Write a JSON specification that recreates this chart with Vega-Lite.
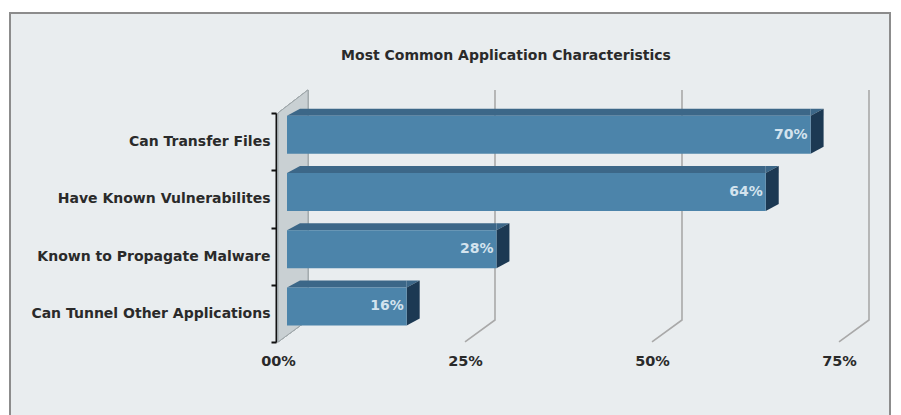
{
  "$schema": "https://vega.github.io/schema/vega-lite/v6.json",
  "width": 880,
  "height": 403,
  "autosize": {"type": "none"},
  "padding": {"left": 10, "top": 13, "right": 11, "bottom": 0},
  "background": "white",
  "title": {
    "text": "Most Common Application Characteristics",
    "anchor": "middle",
    "frame": "group",
    "offset": -64,
    "dx": 56,
    "baseline": "middle",
    "font": "DejaVu Sans",
    "fontSize": 14,
    "fontWeight": "bold",
    "color": "#2a2a2a"
  },
  "config": {
    "view": {"fill": "#e9edef", "stroke": "#8c8c8c", "strokeWidth": 2}
  },
  "data": {
    "values": [
      {"characteristic": "Can Transfer Files", "pct": 70, "label": "70%"},
      {"characteristic": "Have Known Vulnerabilites", "pct": 64, "label": "64%"},
      {"characteristic": "Known to Propagate Malware", "pct": 28, "label": "28%"},
      {"characteristic": "Can Tunnel Other Applications", "pct": 16, "label": "16%"}
    ]
  },
  "layer": [
    {
      "mark": {"type": "point", "shape": "M0,-200.4 L30,-223.4 L30,6.6 L0,28.6 Z", "size": 4, "filled": true, "opacity": 1, "color": "#c9d0d3", "stroke": "#9fa7aa", "strokeWidth": 1},
      "encoding": {
        "x": {"datum": 0, "type": "quantitative"},
        "y": {"datum": "Can Tunnel Other Applications", "type": "nominal"}
      }
    },
    {
      "data": {"values": [{"g": 25}, {"g": 50}, {"g": 75}]},
      "mark": {"type": "point", "shape": "M30,-223.4 L30,6.6 L0,28.6", "size": 4, "filled": false, "opacity": 1, "color": "#a9a9a9", "strokeWidth": 1.6},
      "encoding": {
        "x": {"field": "g", "type": "quantitative"},
        "y": {"datum": "Can Tunnel Other Applications", "type": "nominal"}
      }
    },
    {
      "mark": {"type": "bar", "height": 7, "yOffset": -29.5, "xOffset": 9, "x2Offset": 22, "color": "#3c6788"},
      "encoding": {
        "x": {"field": "pct", "type": "quantitative"},
        "x2": {"datum": 0},
        "y": {"field": "characteristic", "type": "nominal"}
      }
    },
    {
      "mark": {"type": "point", "shape": "M0,-26 L13,-33 L13,-26 Z", "size": 4, "filled": true, "opacity": 1, "color": "#3c6788", "xOffset": 9},
      "encoding": {
        "x": {"datum": 0, "type": "quantitative"},
        "y": {"field": "characteristic", "type": "nominal"}
      }
    },
    {
      "mark": {"type": "point", "shape": "M0,-26 L0,-33 L13,-33 Z", "size": 4, "filled": true, "opacity": 1, "color": "#3c6788", "xOffset": 9},
      "encoding": {
        "x": {"field": "pct", "type": "quantitative"},
        "y": {"field": "characteristic", "type": "nominal"}
      }
    },
    {
      "mark": {"type": "point", "shape": "M0,-26 L13,-33 L13,5 L0,12 Z", "size": 4, "filled": true, "opacity": 1, "color": "#1c3953", "xOffset": 9},
      "encoding": {
        "x": {"field": "pct", "type": "quantitative"},
        "y": {"field": "characteristic", "type": "nominal"}
      }
    },
    {
      "mark": {"type": "bar", "height": 38, "yOffset": -7, "xOffset": 9, "x2Offset": 9, "color": "#4c84aa"},
      "encoding": {
        "x": {
          "field": "pct",
          "type": "quantitative",
          "scale": {"domain": [0, 75], "range": [268, 829], "nice": false, "zero": true},
          "axis": {
            "orient": "bottom",
            "offset": -74,
            "values": [0, 25, 50, 75],
            "labelExpr": "datum.value == 0 ? '00%' : datum.value + '%'",
            "domain": false,
            "ticks": false,
            "tickSize": 0,
            "grid": false,
            "labelPadding": 12,
            "labelFlush": false,
            "title": null,
            "labelFont": "DejaVu Sans",
            "labelFontSize": 14.5,
            "labelFontWeight": "bold",
            "labelColor": "#2a2a2a"
          }
        },
        "x2": {"datum": 0},
        "y": {
          "field": "characteristic",
          "type": "nominal",
          "sort": null,
          "scale": {
            "domain": ["Can Transfer Files", "Have Known Vulnerabilites", "Known to Propagate Malware", "Can Tunnel Other Applications"],
            "range": [100, 329],
            "paddingInner": 0,
            "paddingOuter": 0
          },
          "axis": {
            "orient": "left",
            "offset": -266,
            "title": null,
            "grid": false,
            "domainColor": "#111111",
            "domainWidth": 2,
            "tickColor": "#111111",
            "tickWidth": 2,
            "tickSize": 5,
            "tickBand": "extent",
            "labelPadding": 1,
            "labelLimit": 0,
            "labelFont": "DejaVu Sans",
            "labelFontSize": 14,
            "labelFontWeight": "bold",
            "labelColor": "#2a2a2a"
          }
        }
      }
    },
    {
      "mark": {"type": "text", "align": "right", "baseline": "middle", "xOffset": 6, "yOffset": -7, "font": "DejaVu Sans", "fontSize": 14, "fontWeight": "bold", "color": "#d3e3ee"},
      "encoding": {
        "x": {"field": "pct", "type": "quantitative"},
        "y": {"field": "characteristic", "type": "nominal"},
        "text": {"field": "label"}
      }
    }
  ]
}
